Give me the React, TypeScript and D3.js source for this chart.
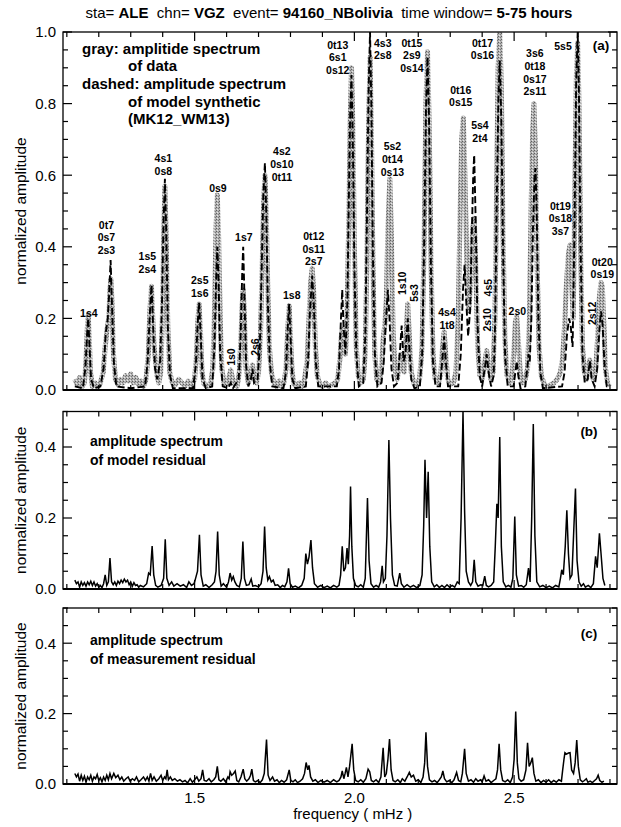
import React from 'react';
import * as d3 from 'd3';

const W = 621;
const H = 827;
const FONT = "'Liberation Sans', Arial, Helvetica, sans-serif";

// ---- Panel (a): gray amplitude spectrum of data [frequency mHz, normalized amplitude]
const dataSpectrum: [number, number][] = [
  [1.125,0.03],[1.132,0.015],[1.140,0.035],[1.148,0.01],[1.155,0.02],[1.160,0.08],[1.164,0.17],[1.167,0.21],[1.170,0.15],[1.174,0.05],[1.180,0.01],[1.188,0.02],[1.196,0.01],[1.205,0.02],[1.214,0.05],[1.220,0.12],[1.226,0.17],[1.231,0.2],[1.235,0.28],[1.238,0.31],[1.241,0.25],[1.246,0.1],[1.252,0.03],[1.260,0.015],[1.268,0.03],[1.276,0.02],[1.284,0.04],[1.292,0.025],[1.300,0.045],[1.308,0.02],[1.316,0.035],[1.324,0.015],[1.332,0.025],[1.340,0.01],[1.348,0.03],[1.355,0.1],[1.360,0.22],[1.365,0.29],[1.369,0.2],[1.373,0.12],[1.378,0.08],[1.382,0.04],[1.388,0.02],[1.394,0.05],[1.399,0.2],[1.403,0.42],[1.407,0.57],[1.411,0.42],[1.416,0.18],[1.422,0.05],[1.430,0.02],[1.440,0.015],[1.450,0.03],[1.460,0.02],[1.470,0.01],[1.480,0.025],[1.490,0.01],[1.500,0.03],[1.506,0.1],[1.510,0.19],[1.514,0.24],[1.518,0.17],[1.523,0.05],[1.530,0.015],[1.540,0.01],[1.550,0.02],[1.557,0.06],[1.563,0.25],[1.567,0.45],[1.571,0.545],[1.575,0.43],[1.580,0.2],[1.585,0.06],[1.592,0.02],[1.600,0.015],[1.606,0.03],[1.613,0.056],[1.619,0.03],[1.626,0.015],[1.633,0.01],[1.640,0.05],[1.645,0.15],[1.649,0.24],[1.652,0.28],[1.656,0.2],[1.661,0.06],[1.668,0.02],[1.675,0.04],[1.681,0.07],[1.687,0.03],[1.694,0.02],[1.700,0.05],[1.706,0.15],[1.711,0.33],[1.716,0.52],[1.720,0.6],[1.724,0.5],[1.729,0.28],[1.734,0.12],[1.740,0.05],[1.748,0.02],[1.756,0.01],[1.764,0.025],[1.772,0.01],[1.780,0.02],[1.786,0.06],[1.791,0.16],[1.796,0.235],[1.800,0.15],[1.805,0.05],[1.812,0.015],[1.820,0.01],[1.828,0.02],[1.836,0.01],[1.844,0.03],[1.852,0.08],[1.858,0.2],[1.863,0.3],[1.868,0.34],[1.873,0.27],[1.878,0.12],[1.884,0.04],[1.892,0.015],[1.900,0.01],[1.910,0.02],[1.920,0.01],[1.930,0.015],[1.940,0.02],[1.948,0.03],[1.955,0.09],[1.960,0.16],[1.964,0.17],[1.968,0.12],[1.972,0.1],[1.977,0.2],[1.982,0.45],[1.987,0.75],[1.991,0.9],[1.995,0.75],[2.000,0.4],[2.006,0.12],[2.012,0.04],[2.020,0.02],[2.028,0.03],[2.034,0.1],[2.039,0.35],[2.044,0.7],[2.049,0.93],[2.053,0.75],[2.058,0.35],[2.064,0.1],[2.070,0.03],[2.078,0.02],[2.085,0.06],[2.090,0.14],[2.095,0.18],[2.100,0.25],[2.105,0.45],[2.111,0.59],[2.116,0.42],[2.121,0.17],[2.127,0.06],[2.134,0.03],[2.140,0.06],[2.145,0.1],[2.150,0.06],[2.156,0.05],[2.161,0.14],[2.167,0.24],[2.172,0.15],[2.178,0.05],[2.186,0.02],[2.195,0.015],[2.204,0.03],[2.212,0.12],[2.218,0.4],[2.224,0.8],[2.229,0.945],[2.234,0.75],[2.240,0.35],[2.246,0.1],[2.253,0.03],[2.262,0.02],[2.270,0.04],[2.276,0.12],[2.281,0.163],[2.286,0.1],[2.292,0.03],[2.300,0.015],[2.310,0.02],[2.318,0.05],[2.325,0.2],[2.331,0.5],[2.336,0.7],[2.341,0.76],[2.346,0.6],[2.352,0.35],[2.358,0.22],[2.364,0.3],[2.370,0.45],[2.375,0.48],[2.380,0.35],[2.386,0.12],[2.393,0.04],[2.400,0.03],[2.407,0.07],[2.414,0.11],[2.420,0.07],[2.427,0.03],[2.434,0.05],[2.440,0.2],[2.445,0.55],[2.450,0.9],[2.455,1.0],[2.460,0.85],[2.465,0.45],[2.471,0.14],[2.478,0.04],[2.486,0.02],[2.494,0.04],[2.500,0.12],[2.504,0.19],[2.508,0.205],[2.513,0.14],[2.519,0.05],[2.527,0.02],[2.535,0.03],[2.542,0.06],[2.548,0.2],[2.553,0.5],[2.558,0.72],[2.562,0.8],[2.567,0.65],[2.572,0.35],[2.578,0.12],[2.585,0.04],[2.595,0.015],[2.605,0.01],[2.615,0.015],[2.625,0.02],[2.635,0.03],[2.645,0.05],[2.652,0.09],[2.658,0.18],[2.664,0.3],[2.670,0.38],[2.675,0.405],[2.680,0.3],[2.685,0.2],[2.690,0.55],[2.695,0.88],[2.699,0.97],[2.703,0.8],[2.708,0.4],[2.714,0.12],[2.720,0.05],[2.727,0.03],[2.733,0.07],[2.737,0.084],[2.742,0.05],[2.748,0.03],[2.755,0.05],[2.761,0.14],[2.767,0.26],[2.772,0.3],[2.776,0.29],[2.781,0.18],[2.786,0.06],[2.792,0.02],[2.798,0.01],
];

// ---- Panel (a): dashed amplitude spectrum of model synthetic (MK12_WM13)
const modelSpectrum: [number, number][] = [
  [1.125,0.01],[1.150,0.005],[1.158,0.06],[1.163,0.15],[1.167,0.2],[1.171,0.12],[1.176,0.03],[1.185,0.005],[1.205,0.01],[1.215,0.06],[1.222,0.16],[1.228,0.2],[1.232,0.26],[1.237,0.363],[1.241,0.25],[1.247,0.08],[1.255,0.01],[1.300,0.005],[1.345,0.01],[1.353,0.08],[1.359,0.2],[1.365,0.293],[1.370,0.18],[1.376,0.06],[1.383,0.03],[1.392,0.08],[1.398,0.25],[1.403,0.48],[1.407,0.59],[1.411,0.45],[1.416,0.18],[1.423,0.04],[1.432,0.005],[1.495,0.005],[1.504,0.07],[1.509,0.18],[1.514,0.244],[1.519,0.15],[1.525,0.03],[1.535,0.005],[1.555,0.01],[1.562,0.12],[1.567,0.3],[1.571,0.40],[1.575,0.3],[1.580,0.1],[1.588,0.01],[1.605,0.005],[1.613,0.02],[1.620,0.005],[1.638,0.03],[1.644,0.15],[1.649,0.33],[1.652,0.40],[1.656,0.26],[1.661,0.07],[1.668,0.01],[1.676,0.03],[1.681,0.06],[1.686,0.02],[1.697,0.03],[1.704,0.12],[1.710,0.34],[1.715,0.55],[1.720,0.634],[1.724,0.5],[1.729,0.25],[1.735,0.08],[1.743,0.01],[1.778,0.005],[1.786,0.05],[1.791,0.17],[1.796,0.24],[1.800,0.15],[1.806,0.03],[1.815,0.005],[1.848,0.01],[1.855,0.08],[1.861,0.22],[1.868,0.32],[1.873,0.24],[1.879,0.08],[1.887,0.01],[1.945,0.01],[1.952,0.06],[1.958,0.2],[1.962,0.28],[1.966,0.18],[1.972,0.1],[1.978,0.25],[1.983,0.55],[1.987,0.78],[1.991,0.88],[1.995,0.7],[2.000,0.35],[2.006,0.1],[2.014,0.01],[2.028,0.02],[2.034,0.15],[2.039,0.45],[2.044,0.82],[2.049,1.0],[2.053,0.8],[2.058,0.38],[2.064,0.1],[2.072,0.01],[2.085,0.02],[2.092,0.08],[2.099,0.2],[2.105,0.28],[2.110,0.2],[2.116,0.06],[2.124,0.01],[2.135,0.02],[2.142,0.1],[2.148,0.18],[2.154,0.08],[2.160,0.1],[2.167,0.2],[2.172,0.12],[2.178,0.03],[2.188,0.005],[2.205,0.01],[2.212,0.1],[2.218,0.38],[2.224,0.78],[2.229,0.93],[2.234,0.74],[2.240,0.32],[2.246,0.08],[2.254,0.01],[2.268,0.01],[2.275,0.08],[2.281,0.15],[2.286,0.08],[2.293,0.01],[2.325,0.01],[2.333,0.1],[2.340,0.28],[2.345,0.35],[2.350,0.25],[2.356,0.15],[2.362,0.22],[2.368,0.45],[2.372,0.6],[2.375,0.656],[2.379,0.5],[2.385,0.2],[2.392,0.04],[2.400,0.01],[2.408,0.06],[2.414,0.1],[2.420,0.05],[2.428,0.01],[2.436,0.04],[2.441,0.2],[2.446,0.55],[2.451,0.82],[2.455,0.92],[2.460,0.75],[2.466,0.35],[2.472,0.09],[2.480,0.01],[2.498,0.01],[2.504,0.05],[2.508,0.08],[2.513,0.04],[2.520,0.005],[2.535,0.01],[2.541,0.06],[2.545,0.1],[2.549,0.08],[2.554,0.2],[2.559,0.45],[2.564,0.6],[2.567,0.62],[2.571,0.48],[2.576,0.2],[2.582,0.05],[2.590,0.005],[2.650,0.01],[2.658,0.05],[2.665,0.15],[2.672,0.2],[2.677,0.18],[2.683,0.12],[2.689,0.45],[2.694,0.85],[2.699,1.0],[2.703,0.82],[2.708,0.4],[2.714,0.1],[2.721,0.02],[2.730,0.03],[2.737,0.08],[2.743,0.03],[2.752,0.01],[2.760,0.06],[2.767,0.17],[2.772,0.22],[2.777,0.18],[2.783,0.07],[2.790,0.01],[2.798,0.005],
];

// ---- Panel (b): amplitude spectrum of model residual
const modelResidual: [number, number][] = [
  [1.125,0.025],[1.130,0.015],[1.135,0.02],[1.140,0.005],[1.145,0.02],[1.150,0.01],[1.155,0.018],[1.160,0.008],[1.165,0.02],[1.170,0.012],[1.175,0.022],[1.180,0.01],[1.185,0.02],[1.190,0.008],[1.195,0.015],[1.200,0.005],[1.205,0.01],[1.210,0.004],[1.215,0.015],[1.220,0.04],[1.225,0.01],[1.230,0.02],[1.235,0.087],[1.240,0.02],[1.245,0.012],[1.250,0.02],[1.255,0.01],[1.260,0.022],[1.265,0.015],[1.270,0.025],[1.275,0.018],[1.280,0.028],[1.285,0.02],[1.290,0.025],[1.295,0.012],[1.300,0.02],[1.305,0.008],[1.310,0.018],[1.315,0.01],[1.320,0.012],[1.325,0.005],[1.330,0.01],[1.340,0.006],[1.350,0.015],[1.356,0.045],[1.361,0.04],[1.367,0.121],[1.372,0.04],[1.378,0.01],[1.385,0.005],[1.395,0.01],[1.403,0.03],[1.408,0.14],[1.413,0.03],[1.420,0.01],[1.428,0.02],[1.435,0.008],[1.445,0.015],[1.455,0.008],[1.465,0.012],[1.475,0.004],[1.482,0.02],[1.490,0.01],[1.498,0.015],[1.503,0.03],[1.509,0.05],[1.515,0.153],[1.520,0.04],[1.527,0.008],[1.535,0.012],[1.545,0.004],[1.555,0.012],[1.562,0.02],[1.567,0.05],[1.572,0.162],[1.577,0.04],[1.583,0.008],[1.590,0.015],[1.600,0.005],[1.606,0.02],[1.611,0.045],[1.616,0.025],[1.621,0.035],[1.626,0.02],[1.632,0.01],[1.640,0.006],[1.646,0.03],[1.651,0.134],[1.656,0.03],[1.662,0.01],[1.670,0.012],[1.677,0.028],[1.682,0.008],[1.690,0.01],[1.700,0.006],[1.708,0.015],[1.714,0.05],[1.719,0.176],[1.724,0.06],[1.729,0.025],[1.734,0.035],[1.740,0.02],[1.746,0.025],[1.752,0.01],[1.760,0.012],[1.768,0.004],[1.775,0.01],[1.782,0.006],[1.789,0.02],[1.794,0.058],[1.799,0.015],[1.806,0.005],[1.815,0.008],[1.825,0.003],[1.835,0.01],[1.843,0.03],[1.848,0.1],[1.853,0.07],[1.858,0.09],[1.864,0.138],[1.869,0.06],[1.875,0.015],[1.885,0.005],[1.895,0.01],[1.905,0.004],[1.915,0.008],[1.925,0.003],[1.935,0.01],[1.945,0.005],[1.952,0.01],[1.957,0.04],[1.962,0.12],[1.967,0.05],[1.972,0.06],[1.977,0.115],[1.981,0.07],[1.985,0.15],[1.988,0.289],[1.992,0.12],[1.997,0.03],[2.004,0.01],[2.012,0.006],[2.020,0.012],[2.028,0.005],[2.034,0.03],[2.041,0.256],[2.046,0.08],[2.052,0.015],[2.060,0.005],[2.068,0.01],[2.076,0.005],[2.082,0.02],[2.087,0.065],[2.091,0.02],[2.097,0.03],[2.102,0.15],[2.108,0.42],[2.113,0.2],[2.119,0.04],[2.126,0.01],[2.134,0.008],[2.142,0.045],[2.147,0.015],[2.155,0.005],[2.165,0.012],[2.175,0.005],[2.185,0.01],[2.195,0.004],[2.205,0.01],[2.212,0.04],[2.217,0.18],[2.221,0.364],[2.226,0.2],[2.231,0.33],[2.236,0.12],[2.242,0.02],[2.250,0.006],[2.258,0.012],[2.266,0.004],[2.274,0.01],[2.282,0.004],[2.290,0.012],[2.298,0.005],[2.306,0.01],[2.314,0.005],[2.322,0.02],[2.328,0.015],[2.334,0.2],[2.340,0.5],[2.345,0.22],[2.350,0.05],[2.357,0.02],[2.364,0.01],[2.370,0.02],[2.375,0.082],[2.380,0.02],[2.387,0.008],[2.395,0.012],[2.402,0.01],[2.408,0.036],[2.413,0.01],[2.420,0.006],[2.428,0.01],[2.436,0.02],[2.441,0.12],[2.446,0.24],[2.450,0.2],[2.455,0.428],[2.460,0.12],[2.466,0.02],[2.474,0.006],[2.482,0.01],[2.490,0.005],[2.496,0.03],[2.502,0.204],[2.507,0.04],[2.514,0.008],[2.522,0.01],[2.530,0.005],[2.538,0.012],[2.545,0.059],[2.550,0.02],[2.555,0.2],[2.560,0.465],[2.565,0.15],[2.571,0.02],[2.580,0.006],[2.590,0.01],[2.600,0.004],[2.610,0.008],[2.620,0.003],[2.630,0.01],[2.640,0.006],[2.645,0.03],[2.649,0.054],[2.654,0.04],[2.660,0.12],[2.665,0.222],[2.670,0.1],[2.675,0.03],[2.681,0.04],[2.686,0.15],[2.692,0.283],[2.697,0.08],[2.703,0.02],[2.710,0.008],[2.717,0.015],[2.723,0.005],[2.732,0.01],[2.740,0.004],[2.748,0.015],[2.755,0.092],[2.760,0.06],[2.767,0.157],[2.772,0.1],[2.778,0.03],[2.784,0.01],
];

// ---- Panel (c): amplitude spectrum of measurement residual
const measurementResidual: [number, number][] = [
  [1.125,0.03],[1.130,0.02],[1.135,0.028],[1.140,0.008],[1.145,0.025],[1.150,0.01],[1.155,0.022],[1.160,0.005],[1.165,0.02],[1.170,0.012],[1.175,0.025],[1.180,0.008],[1.185,0.02],[1.190,0.015],[1.195,0.027],[1.200,0.01],[1.205,0.018],[1.210,0.006],[1.215,0.02],[1.220,0.01],[1.225,0.025],[1.230,0.012],[1.235,0.03],[1.240,0.015],[1.247,0.03],[1.253,0.018],[1.260,0.025],[1.266,0.012],[1.272,0.02],[1.278,0.008],[1.285,0.015],[1.292,0.02],[1.298,0.008],[1.305,0.015],[1.312,0.01],[1.318,0.02],[1.325,0.006],[1.332,0.012],[1.340,0.02],[1.346,0.01],[1.352,0.02],[1.357,0.008],[1.362,0.03],[1.367,0.01],[1.373,0.02],[1.380,0.008],[1.388,0.015],[1.395,0.025],[1.400,0.01],[1.406,0.02],[1.410,0.015],[1.414,0.04],[1.418,0.012],[1.424,0.02],[1.430,0.01],[1.438,0.015],[1.446,0.008],[1.454,0.012],[1.462,0.006],[1.470,0.01],[1.478,0.003],[1.486,0.015],[1.493,0.005],[1.500,0.012],[1.507,0.02],[1.513,0.008],[1.520,0.015],[1.525,0.04],[1.530,0.01],[1.537,0.008],[1.545,0.015],[1.552,0.006],[1.560,0.012],[1.566,0.02],[1.571,0.05],[1.576,0.012],[1.582,0.008],[1.590,0.015],[1.597,0.006],[1.604,0.02],[1.608,0.015],[1.611,0.035],[1.616,0.025],[1.622,0.03],[1.627,0.037],[1.632,0.01],[1.638,0.006],[1.645,0.02],[1.652,0.042],[1.657,0.015],[1.663,0.008],[1.670,0.015],[1.675,0.025],[1.679,0.042],[1.684,0.01],[1.690,0.006],[1.698,0.01],[1.705,0.004],[1.712,0.012],[1.718,0.03],[1.725,0.126],[1.730,0.025],[1.736,0.01],[1.744,0.02],[1.750,0.008],[1.758,0.012],[1.765,0.004],[1.772,0.01],[1.780,0.005],[1.788,0.012],[1.796,0.04],[1.801,0.01],[1.808,0.006],[1.815,0.012],[1.822,0.004],[1.830,0.008],[1.838,0.015],[1.844,0.03],[1.849,0.061],[1.854,0.04],[1.858,0.053],[1.863,0.02],[1.870,0.008],[1.878,0.012],[1.886,0.004],[1.895,0.01],[1.905,0.005],[1.915,0.01],[1.925,0.004],[1.935,0.012],[1.945,0.006],[1.952,0.01],[1.958,0.02],[1.962,0.037],[1.967,0.015],[1.971,0.03],[1.975,0.047],[1.980,0.02],[1.985,0.05],[1.993,0.114],[1.998,0.04],[2.004,0.01],[2.012,0.006],[2.020,0.012],[2.028,0.005],[2.036,0.015],[2.043,0.042],[2.048,0.035],[2.053,0.01],[2.060,0.006],[2.068,0.012],[2.076,0.004],[2.083,0.02],[2.090,0.103],[2.095,0.02],[2.100,0.03],[2.105,0.07],[2.110,0.128],[2.115,0.04],[2.121,0.01],[2.128,0.006],[2.136,0.012],[2.144,0.004],[2.150,0.015],[2.158,0.008],[2.165,0.02],[2.172,0.033],[2.178,0.02],[2.185,0.025],[2.192,0.008],[2.200,0.012],[2.208,0.004],[2.215,0.02],[2.220,0.06],[2.224,0.147],[2.229,0.05],[2.235,0.012],[2.243,0.006],[2.251,0.01],[2.259,0.004],[2.266,0.012],[2.272,0.02],[2.277,0.037],[2.282,0.015],[2.289,0.006],[2.297,0.01],[2.305,0.004],[2.312,0.012],[2.320,0.033],[2.326,0.01],[2.333,0.006],[2.338,0.03],[2.345,0.1],[2.350,0.03],[2.357,0.008],[2.365,0.012],[2.373,0.005],[2.380,0.015],[2.387,0.008],[2.395,0.012],[2.400,0.006],[2.406,0.023],[2.412,0.008],[2.420,0.012],[2.428,0.004],[2.436,0.01],[2.443,0.015],[2.448,0.04],[2.453,0.114],[2.458,0.04],[2.464,0.01],[2.472,0.006],[2.480,0.012],[2.488,0.004],[2.495,0.02],[2.500,0.07],[2.505,0.206],[2.510,0.06],[2.515,0.015],[2.522,0.008],[2.530,0.012],[2.537,0.04],[2.542,0.117],[2.547,0.05],[2.552,0.06],[2.557,0.075],[2.562,0.03],[2.568,0.008],[2.576,0.012],[2.584,0.004],[2.592,0.01],[2.600,0.005],[2.608,0.012],[2.616,0.004],[2.624,0.01],[2.632,0.005],[2.640,0.012],[2.648,0.008],[2.652,0.04],[2.656,0.07],[2.659,0.089],[2.664,0.085],[2.670,0.088],[2.675,0.089],[2.680,0.04],[2.686,0.03],[2.691,0.06],[2.696,0.125],[2.701,0.05],[2.707,0.012],[2.714,0.006],[2.720,0.01],[2.726,0.015],[2.731,0.005],[2.738,0.008],[2.745,0.004],[2.752,0.01],[2.758,0.015],[2.763,0.025],[2.768,0.01],[2.775,0.005],[2.781,0.008],
];

// ---- Axis ticks
const xMinorTicks = [1.1,1.2,1.3,1.4,1.5,1.6,1.7,1.8,1.9,2.0,2.1,2.2,2.3,2.4,2.5,2.6,2.7,2.8];
const xMajorTicks = [1.5, 2.0, 2.5];
const xTickLabels = ['1.5', '2.0', '2.5'];
const yMajorA = [0, 0.2, 0.4, 0.6, 0.8, 1.0];
const yLabelsA = ['0.0', '0.2', '0.4', '0.6', '0.8', '1.0'];
const yMajorBC = [0, 0.2, 0.4];
const yLabelsBC = ['0.0', '0.2', '0.4'];
const yMinorStep = 0.05;

// ---- Mode labels in panel (a): lines, frequency, amplitude of first line
type ModeLabel = { lines: string[]; f: number; a: number; rot?: boolean };
const modeLabels: ModeLabel[] = [
  { lines: ['1s4'], f: 1.169, a: 0.215 },
  { lines: ['0t7', '0s7', '2s3'], f: 1.224, a: 0.461 },
  { lines: ['1s5', '2s4'], f: 1.352, a: 0.374 },
  { lines: ['4s1', '0s8'], f: 1.402, a: 0.647 },
  { lines: ['2s5', '1s6'], f: 1.516, a: 0.307 },
  { lines: ['0s9'], f: 1.573, a: 0.563 },
  { lines: ['1s0'], f: 1.613, a: 0.092, rot: true },
  { lines: ['1s7'], f: 1.654, a: 0.426 },
  { lines: ['2s6'], f: 1.689, a: 0.12, rot: true },
  { lines: ['4s2', '0s10', '0t11'], f: 1.773, a: 0.666 },
  { lines: ['1s8'], f: 1.804, a: 0.265 },
  { lines: ['0t12', '0s11', '2s7'], f: 1.873, a: 0.43 },
  { lines: ['0t13', '6s1', '0s12'], f: 1.948, a: 0.964 },
  { lines: ['4s3', '2s8'], f: 2.089, a: 0.97 },
  { lines: ['5s2', '0t14', '0s13'], f: 2.119, a: 0.68 },
  { lines: ['1s10'], f: 2.149, a: 0.298, rot: true },
  { lines: ['5s3'], f: 2.188, a: 0.271, rot: true },
  { lines: ['0t15', '2s9', '0s14'], f: 2.18, a: 0.97 },
  { lines: ['4s4', '1t8'], f: 2.29, a: 0.216 },
  { lines: ['0t16', '0s15'], f: 2.333, a: 0.838 },
  { lines: ['5s4', '2t4'], f: 2.393, a: 0.74 },
  { lines: ['4s5'], f: 2.418, a: 0.286, rot: true },
  { lines: ['2s10'], f: 2.415, a: 0.196, rot: true },
  { lines: ['0t17', '0s16'], f: 2.401, a: 0.97 },
  { lines: ['2s0'], f: 2.51, a: 0.219 },
  { lines: ['3s6', '0t18', '0s17', '2s11'], f: 2.565, a: 0.94 },
  { lines: ['5s5'], f: 2.653, a: 0.959 },
  { lines: ['0t19', '0s18', '3s7'], f: 2.645, a: 0.514 },
  { lines: ['2s12'], f: 2.745, a: 0.214, rot: true },
  { lines: ['0t20', '0s19'], f: 2.776, a: 0.358 },
];

const legendA = ['gray: amplitide spectrum', 'of data', 'dashed: amplitude spectrum', 'of model synthetic', '(MK12_WM13)'];
const legendB = ['amplitude spectrum', 'of model residual'];
const legendC = ['amplitude spectrum', 'of measurement residual'];

// layout
const LEFT = 63;
const RIGHT = 617;

type Panel = {
  id: string;
  top: number;
  bottom: number;
  max: number;
  major: number[];
  labels: string[];
  tag: string;
  tagY: number;
  text: string[];
};

const panels: Panel[] = [
  { id: 'a', top: 32, bottom: 390, max: 1.0, major: yMajorA, labels: yLabelsA, tag: '(a)', tagY: 45, text: legendA },
  { id: 'b', top: 411.5, bottom: 589, max: 0.5, major: yMajorBC, labels: yLabelsBC, tag: '(b)', tagY: 431, text: legendB },
  { id: 'c', top: 608, bottom: 784, max: 0.5, major: yMajorBC, labels: yLabelsBC, tag: '(c)', tagY: 633, text: legendC },
];

export default function App() {
  const x = d3.scaleLinear().domain([1.088, 2.822]).range([LEFT, RIGHT]);

  const renderPanel = (p: Panel) => {
    const y = d3.scaleLinear().domain([0, p.max]).range([p.bottom, p.top]);
    const line = d3
      .line<[number, number]>()
      .x((d) => x(d[0]))
      .y((d) => y(d[1]));
    const nMinor = Math.round(p.max / yMinorStep);
    const minor = d3.range(0, nMinor + 1).map((i) => i * yMinorStep);
    const clipId = `clip-${p.id}`;
    return (
      <g key={p.id}>
        <defs>
          <clipPath id={clipId}>
            <rect x={LEFT} y={p.top} width={RIGHT - LEFT} height={p.bottom - p.top} />
          </clipPath>
        </defs>
        <g clipPath={`url(#${clipId})`}>
          {p.id === 'a' && (
            <>
              <path d={line(dataSpectrum) || ''} fill="none" stroke="url(#stipple)" strokeWidth={5} strokeLinejoin="round" />
              <path d={line(modelSpectrum) || ''} fill="none" stroke="#000" strokeWidth={1.9} strokeDasharray="7 3" />
            </>
          )}
          {p.id === 'b' && <path d={line(modelResidual) || ''} fill="none" stroke="#000" strokeWidth={1.5} />}
          {p.id === 'c' && <path d={line(measurementResidual) || ''} fill="none" stroke="#000" strokeWidth={1.5} />}
        </g>
        <rect x={LEFT} y={p.top} width={RIGHT - LEFT} height={p.bottom - p.top} fill="none" stroke="#000" strokeWidth={1.3} />
        <line x1={LEFT} x2={RIGHT} y1={p.bottom} y2={p.bottom} stroke="#000" strokeWidth={2} />
        {minor.map((v, i) => {
          const isMajor = p.major.some((m) => Math.abs(m - v) < 1e-6);
          const len = isMajor ? 9 : 5;
          return (
            <g key={`yt${i}`}>
              <line x1={LEFT} x2={LEFT + len} y1={y(v)} y2={y(v)} stroke="#000" strokeWidth={1.2} />
              <line x1={RIGHT} x2={RIGHT - len} y1={y(v)} y2={y(v)} stroke="#000" strokeWidth={1.2} />
            </g>
          );
        })}
        {p.major.map((v, i) => (
          <text key={`yl${i}`} x={56} y={y(v)} dy="0.36em" textAnchor="end" fontSize={15} fontFamily={FONT}>
            {p.labels[i]}
          </text>
        ))}
        {xMinorTicks.map((v, i) => {
          const isMajor = xMajorTicks.some((m) => Math.abs(m - v) < 1e-6);
          const len = isMajor ? 9 : 5;
          return (
            <g key={`xt${i}`}>
              <line x1={x(v)} x2={x(v)} y1={p.top} y2={p.top + len} stroke="#000" strokeWidth={1.2} />
              <line x1={x(v)} x2={x(v)} y1={p.bottom} y2={p.bottom - len} stroke="#000" strokeWidth={1.2} />
            </g>
          );
        })}
        <text
          transform={`translate(21,${(p.top + p.bottom) / 2}) rotate(-90)`}
          textAnchor="middle"
          dy="0.35em"
          fontSize={15.5}
          fontFamily={FONT}
        >
          normalized amplitude
        </text>
        <text x={p.id === 'a' ? 601 : 589} y={p.tagY} dy="0.36em" textAnchor="middle" fontSize={13.5} fontWeight="bold" fontFamily={FONT}>
          {p.tag}
        </text>
        {p.id === 'a'
          ? p.text.map((t, i) => (
              <text
                key={`lg${i}`}
                x={i === 0 || i === 2 ? 82 : 128}
                y={[49, 66, 84, 101.5, 119][i]}
                dy="0.36em"
                fontSize={15}
                fontWeight="bold"
                fontFamily={FONT}
              >
                {t}
              </text>
            ))
          : p.text.map((t, i) => (
              <text
                key={`lg${i}`}
                x={90}
                y={(p.id === 'b' ? 441 : 640) + i * 19}
                dy="0.36em"
                fontSize={14}
                fontWeight="bold"
                fontFamily={FONT}
              >
                {t}
              </text>
            ))}
        {p.id === 'a' &&
          modeLabels.map((m, i) => {
            const cx = x(m.f);
            const cy = y(m.a);
            if (m.rot) {
              return (
                <text
                  key={`ml${i}`}
                  transform={`translate(${cx},${cy}) rotate(-90)`}
                  textAnchor="middle"
                  dy="0.36em"
                  fontSize={10.5}
                  fontWeight="bold"
                  fontFamily={FONT}
                >
                  {m.lines[0]}
                </text>
              );
            }
            return (
              <text key={`ml${i}`} textAnchor="middle" fontSize={10.5} fontWeight="bold" fontFamily={FONT}>
                {m.lines.map((l, j) => (
                  <tspan key={j} x={cx} y={cy + j * 12.7} dy="0.36em">
                    {l}
                  </tspan>
                ))}
              </text>
            );
          })}
      </g>
    );
  };

  return (
    <svg
      width={W}
      height={H}
      viewBox={`0 0 ${W} ${H}`}
      style={{ position: 'absolute', left: 0, top: 0, background: '#fff' }}
    >
      <defs>
        <pattern id="stipple" width={3} height={3} patternUnits="userSpaceOnUse">
          <rect width={3} height={3} fill="#b2b2b2" />
          <rect x={0} y={0} width={1} height={1} fill="#5e5e5e" />
          <rect x={2} y={1} width={1} height={1} fill="#7a7a7a" />
          <rect x={1} y={2} width={1} height={1} fill="#e6e6e6" />
        </pattern>
      </defs>
      <rect width={W} height={H} fill="#fff" />
      <text x={329} y={13} dy="0.36em" textAnchor="middle" fontSize={15} fontFamily={FONT} style={{ whiteSpace: 'pre' }}>
        <tspan>sta= </tspan>
        <tspan fontWeight="bold">ALE</tspan>
        <tspan>  chn= </tspan>
        <tspan fontWeight="bold">VGZ</tspan>
        <tspan>  event= </tspan>
        <tspan fontWeight="bold">94160_NBolivia</tspan>
        <tspan>  time window= </tspan>
        <tspan fontWeight="bold">5-75 hours</tspan>
      </text>
      {panels.map(renderPanel)}
      {xMajorTicks.map((v, i) => (
        <text key={`xl${i}`} x={x(v)} y={798} dy="0.36em" textAnchor="middle" fontSize={15} fontFamily={FONT}>
          {xTickLabels[i]}
        </text>
      ))}
      <text x={x(1.995)} y={814} dy="0.36em" textAnchor="middle" fontSize={15} fontFamily={FONT}>
        frequency ( mHz )
      </text>
    </svg>
  );
}
